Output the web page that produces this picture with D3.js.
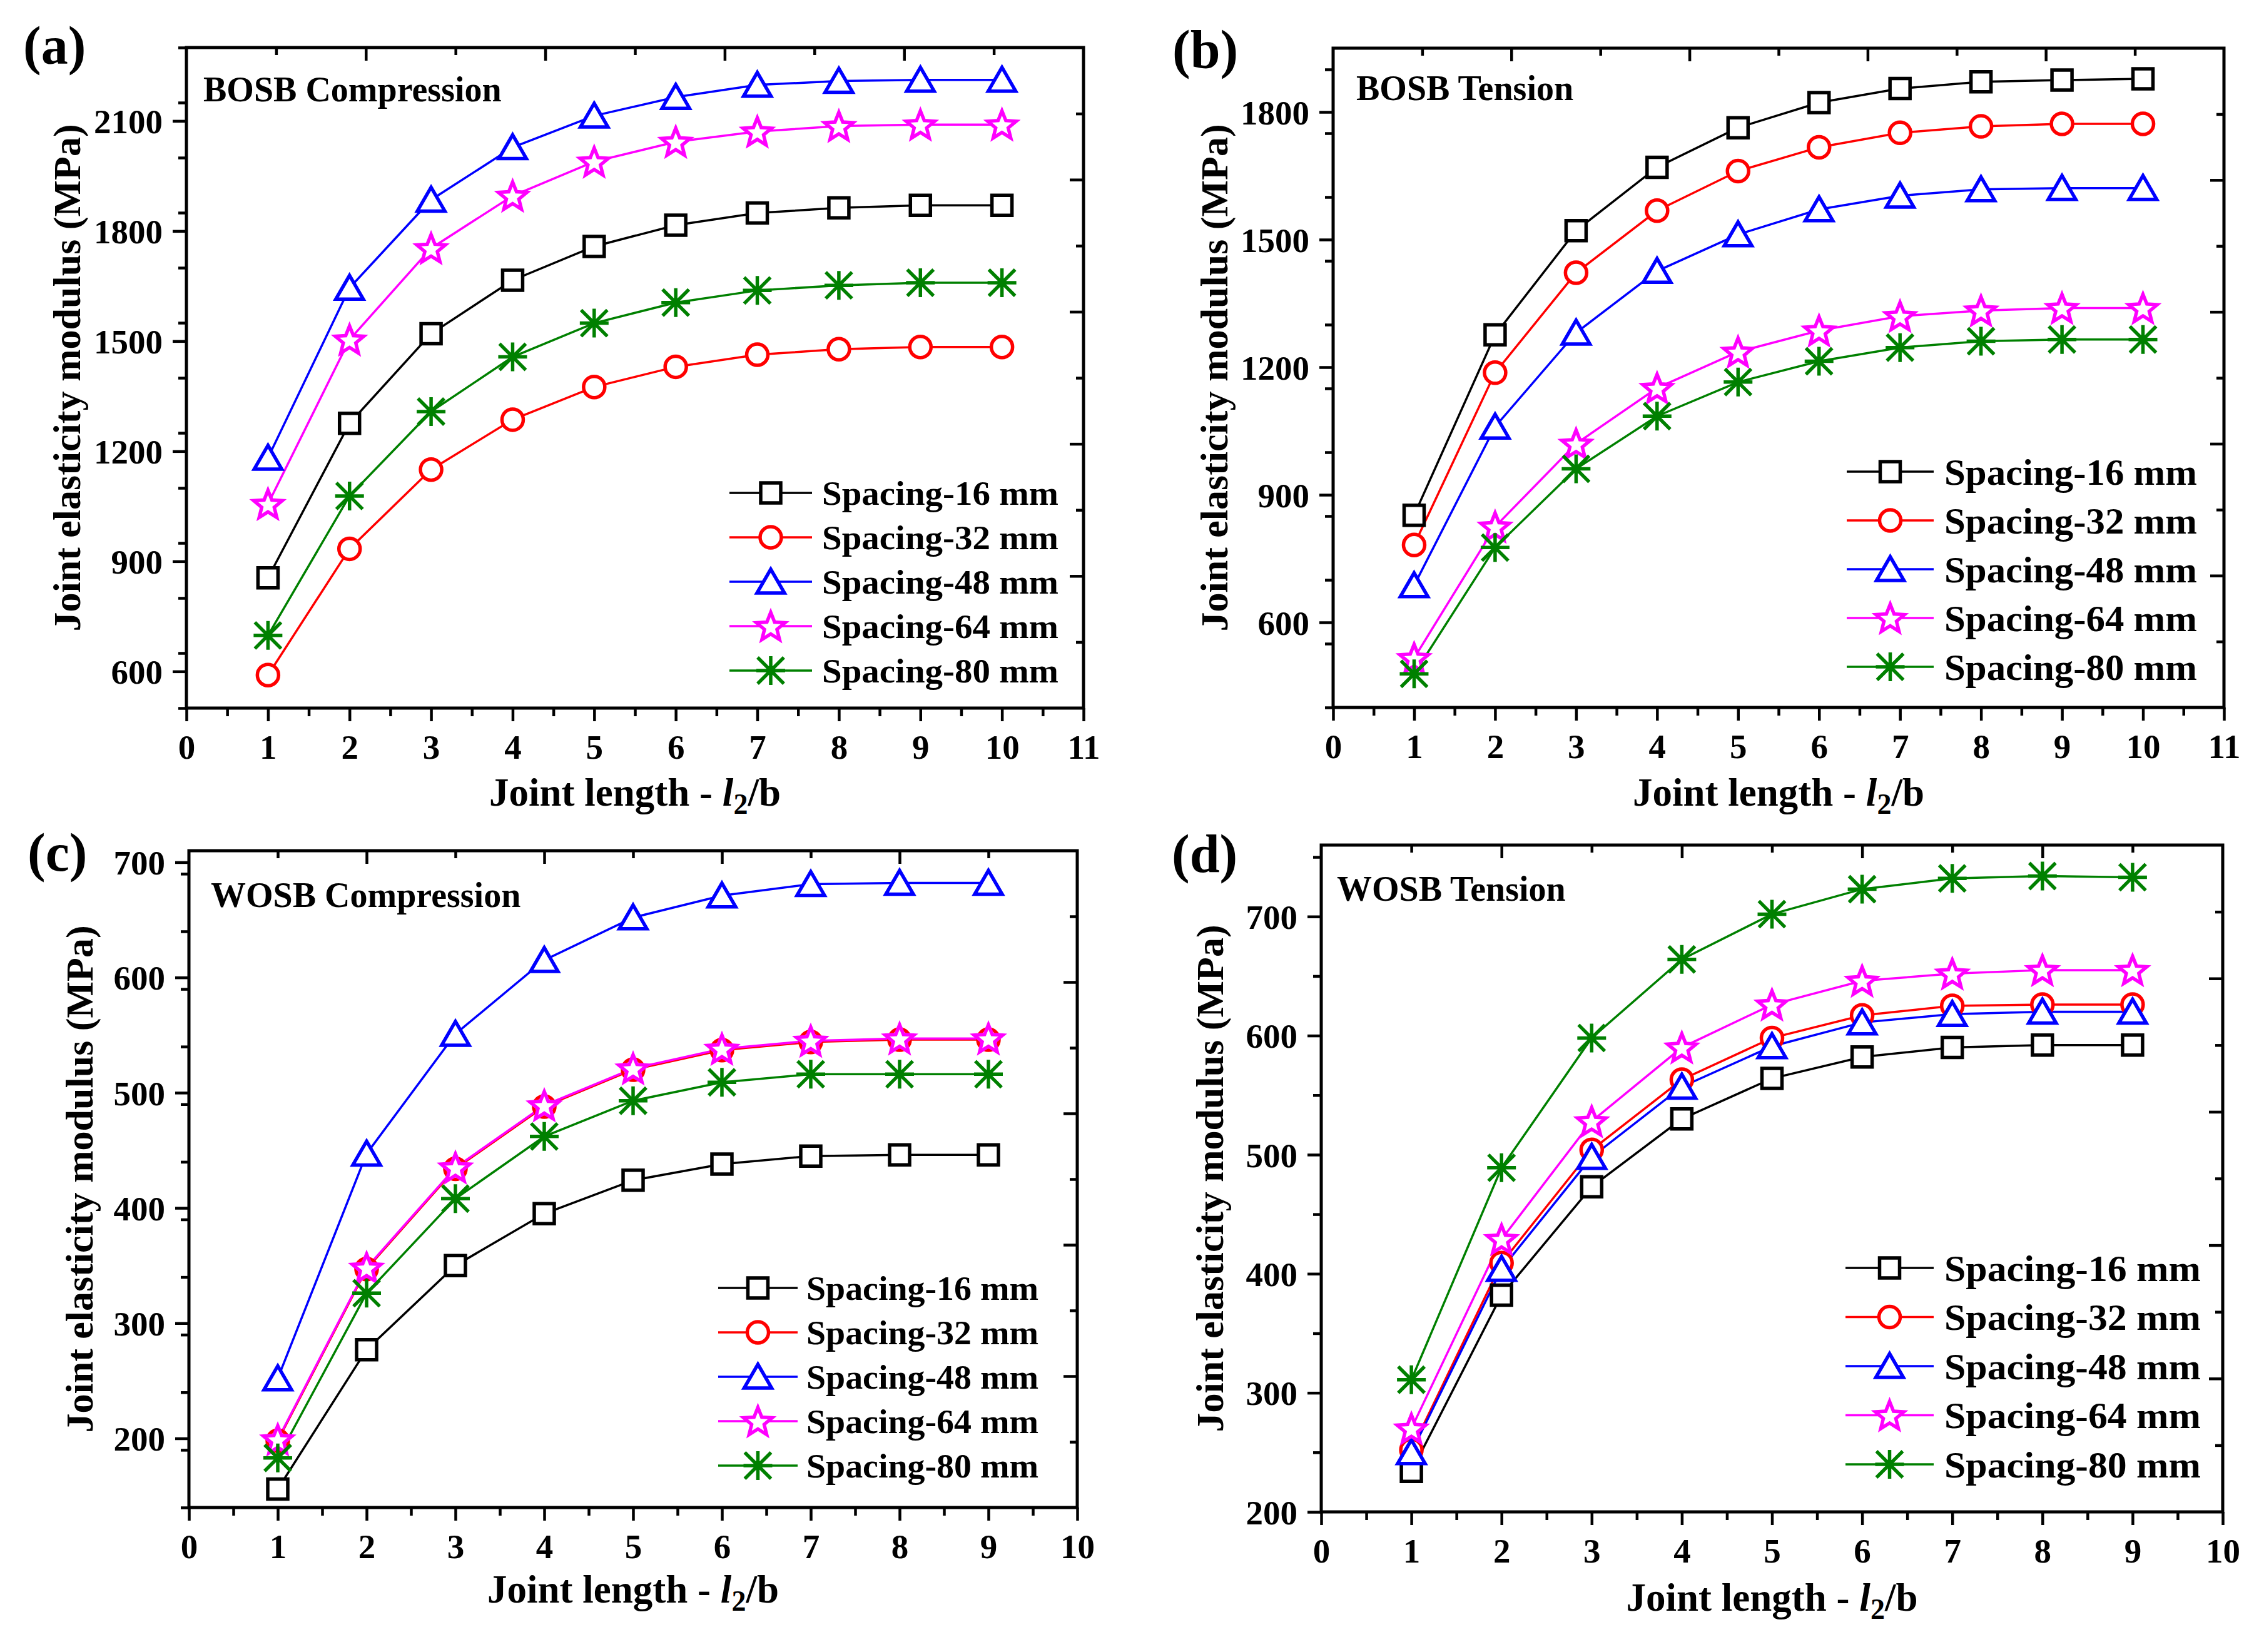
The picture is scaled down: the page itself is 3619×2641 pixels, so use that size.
<!DOCTYPE html>
<html>
<head>
<meta charset="utf-8">
<script src="https://cdnjs.cloudflare.com/ajax/libs/d3/7.8.5/d3.min.js"></script>
<style>
  body { margin: 0; background: #fff; }
  svg text { font-family: "Liberation Serif", "Times New Roman", serif; font-weight: bold; fill: #000; }
</style>
</head>
<body>
<svg id="paper"></svg>
<script>
// series names, colours and symbols (same order in every panel)
const spacingNames = ["Spacing-16 mm", "Spacing-32 mm", "Spacing-48 mm", "Spacing-64 mm", "Spacing-80 mm"];
const seriesColors = ["#000000", "#ff0000", "#0000ff", "#ff00ff", "#008000"];
const markerTypes = ["square", "circle", "triangle", "star", "asterisk"];

// joint length l2/b
const bosbJointLength = [1, 2, 3, 4, 5, 6, 7, 8, 9, 10];
const wosbJointLength = [1, 2, 3, 4, 5, 6, 7, 8, 9];

// (a) BOSB compression
const aS16 = [855, 1276, 1520, 1666, 1758, 1816, 1849, 1863, 1870, 1870];
const aS32 = [590, 934, 1150, 1286, 1375, 1430, 1463, 1478, 1484, 1484];
const aS48 = [1182, 1645, 1885, 2028, 2114, 2165, 2198, 2209, 2212, 2212];
const aS64 = [1056, 1504, 1753, 1896, 1989, 2043, 2071, 2086, 2090, 2090];
const aS80 = [698, 1078, 1308, 1457, 1549, 1605, 1638, 1652, 1659, 1659];

// (b) BOSB tension
const bS16 = [852, 1276, 1521, 1670, 1763, 1822, 1855, 1871, 1875, 1878];
const bS32 = [782, 1187, 1422, 1568, 1661, 1717, 1751, 1766, 1772, 1772];
const bS48 = [687, 1060, 1281, 1426, 1512, 1571, 1603, 1618, 1621, 1621];
const bS64 = [516, 825, 1020, 1151, 1236, 1286, 1320, 1333, 1339, 1339];
const bS80 = [479, 776, 961, 1085, 1165, 1214, 1246, 1261, 1265, 1265];

// (c) WOSB compression
const cS16 = [156, 277, 350, 395, 424, 438, 445, 446, 446];
const cS32 = [198, 347, 434, 488, 520, 537, 544, 546, 546];
const cS48 = [252, 447, 551, 615, 652, 671, 681, 682, 682];
const cS64 = [199, 348, 435, 489, 521, 538, 545, 547, 547];
const cS80 = [183, 326, 408, 462, 493, 509, 516, 516, 516];

// (d) WOSB tension
const dS16 = [234, 382, 473, 530, 564, 582, 590, 592, 592];
const dS32 = [252, 409, 504, 563, 598, 617, 625, 626, 626];
const dS48 = [250, 404, 498, 557, 591, 611, 618, 620, 620];
const dS64 = [270, 429, 528, 590, 626, 646, 652, 655, 655];
const dS80 = [311, 489, 598, 664, 702, 723, 732, 734, 733];

// tick labels
const xTicks11 = [0, 1, 2, 3, 4, 5, 6, 7, 8, 9, 10, 11];
const xTicks10 = [0, 1, 2, 3, 4, 5, 6, 7, 8, 9, 10];
const bosbCompTicks = [600, 900, 1200, 1500, 1800, 2100];
const bosbTensTicks = [600, 900, 1200, 1500, 1800];
const wosbCompTicks = [200, 300, 400, 500, 600, 700];
const wosbTensTicks = [200, 300, 400, 500, 600, 700];

// panel layout
const panels = [
    {label: "(a)", title: "BOSB Compression", xs: bosbJointLength, values: [aS16, aS32, aS48, aS64, aS80],
     xMax: 11, xTicks: xTicks11, yDomain: [500, 2300], yTicks: bosbCompTicks, yMinor: 150,
     box: {left: 298, right: 1732, top: 76, bottom: 1132}, labelAt: [37, 102], titleAt: [27, 86],
     yTitleOff: 170, xTitleOff: 156,
     legend: {x0: 1166, x1: 1298, tx: 1314, y0: 788, dy: 71, size: 54, width: 378}},
    {label: "(b)", title: "BOSB Tension", xs: bosbJointLength, values: [bS16, bS32, bS48, bS64, bS80],
     xMax: 11, xTicks: xTicks11, yDomain: [400, 1950], yTicks: bosbTensTicks, yMinor: 150,
     box: {left: 2131, right: 3555, top: 77, bottom: 1131}, labelAt: [1874, 108], titleAt: [37, 83],
     yTitleOff: 169, xTitleOff: 157,
     legend: {x0: 2952, x1: 3091, tx: 3108, y0: 754, dy: 78, size: 59, width: 404}},
    {label: "(c)", title: "WOSB Compression", xs: wosbJointLength, values: [cS16, cS32, cS48, cS64, cS80],
     xMax: 10, xTicks: xTicks10, yDomain: [140, 710], yTicks: wosbCompTicks, yMinor: 50,
     box: {left: 302, right: 1722, top: 1360, bottom: 2410}, labelAt: [44, 1392], titleAt: [35, 90],
     yTitleOff: 154, xTitleOff: 152,
     legend: {x0: 1148, x1: 1275, tx: 1289, y0: 2059, dy: 71, size: 54, width: 371}},
    {label: "(d)", title: "WOSB Tension", xs: wosbJointLength, values: [dS16, dS32, dS48, dS64, dS80],
     xMax: 10, xTicks: xTicks10, yDomain: [200, 760], yTicks: wosbTensTicks, yMinor: 50,
     box: {left: 2112, right: 3553, top: 1351, bottom: 2417}, labelAt: [1873, 1394], titleAt: [25, 89],
     yTitleOff: 157, xTitleOff: 158,
     legend: {x0: 2950, x1: 3091, tx: 3108, y0: 2027, dy: 78.5, size: 59, width: 410}}
];

const W = 3619, H = 2641;
const svg = d3.select("#paper").attr("width", W).attr("height", H);
svg.append("rect").attr("width", W).attr("height", H).attr("fill", "#fff");

function starPath(R, r) {
    let pts = [];
    for (let k = 0; k < 10; k++) {
        let a = -Math.PI / 2 + k * Math.PI / 5, rad = k % 2 ? r : R;
        pts.push([rad * Math.cos(a), rad * Math.sin(a) + 2]);
    }
    return "M" + pts.map(p => p[0].toFixed(2) + "," + p[1].toFixed(2)).join("L") + "Z";
}

function markerPath(type) {
    switch (type) {
        case "square": return "M-16,-16H16V16H-16Z";
        case "circle": return "M17,0A17,17 0 1,1 -17,0A17,17 0 1,1 17,0Z";
        case "triangle": return "M0,-20L22,18H-22Z";
        case "star": return starPath(24, 10.5);
        default: return "M0,-23V23M-23,0H23M-21,-21L21,21M21,-21L-21,21";
    }
}

function drawMarker(sel, type, color) {
    sel.append("path")
        .attr("d", markerPath(type))
        .attr("fill", type === "asterisk" ? "none" : "#fff")
        .attr("stroke", color)
        .attr("stroke-width", 5.5)
        .attr("stroke-linejoin", "miter");
}

panels.forEach(p => {
    const b = p.box;
    const g = svg.append("g");

    const x = d3.scaleLinear().domain([0, p.xMax]).range([b.left, b.right]);
    const y = d3.scaleLinear().domain(p.yDomain).range([b.bottom, b.top]);
    // the frame's top and right edges carry their own evenly spaced ticks
    const xTop = d3.scaleLinear().domain([0, 10]).range([b.left, b.right]);
    const yRight = d3.scaleLinear().domain([0, 10]).range([b.bottom, b.top]);

    const xMinor = d3.range(0.5, p.xMax, 1);
    const yMinor = d3.range(p.yDomain[0], p.yDomain[1] + 1, p.yMinor)
        .filter(v => v % (p.yMinor * 2) !== 0 && !p.yTicks.includes(v));

    // bottom axis
    const bx = g.append("g").attr("transform", "translate(0," + b.bottom + ")");
    bx.call(d3.axisBottom(x).tickValues(p.xTicks).tickSize(21).tickSizeOuter(0).tickFormat(d3.format("d")));
    bx.selectAll("text").attr("y", 81).attr("dy", null).style("font-size", "55px");
    g.append("g").attr("transform", "translate(0," + b.bottom + ")")
        .call(d3.axisBottom(x).tickValues(xMinor).tickSize(13).tickSizeOuter(0).tickFormat(""));

    // left axis
    const ly = g.append("g").attr("transform", "translate(" + b.left + ",0)");
    ly.call(d3.axisLeft(y).tickValues(p.yTicks).tickSize(22).tickSizeOuter(0).tickFormat(d3.format("d")));
    ly.selectAll("text").attr("x", -38).attr("dy", "0.35em").style("font-size", "55px");
    g.append("g").attr("transform", "translate(" + b.left + ",0)")
        .call(d3.axisLeft(y).tickValues(yMinor).tickSize(13).tickSizeOuter(0).tickFormat(""));

    // top and right, ticks pointing inward
    g.append("g").attr("transform", "translate(0," + b.top + ")")
        .call(d3.axisTop(xTop).tickValues([2, 4, 6, 8]).tickSize(-21).tickSizeOuter(0).tickFormat(""));
    g.append("g").attr("transform", "translate(0," + b.top + ")")
        .call(d3.axisTop(xTop).tickValues([1, 3, 5, 7, 9]).tickSize(-12).tickSizeOuter(0).tickFormat(""));
    g.append("g").attr("transform", "translate(" + b.right + ",0)")
        .call(d3.axisRight(yRight).tickValues([2, 4, 6, 8]).tickSize(-22).tickSizeOuter(0).tickFormat(""));
    g.append("g").attr("transform", "translate(" + b.right + ",0)")
        .call(d3.axisRight(yRight).tickValues([1, 3, 5, 7, 9]).tickSize(-12).tickSizeOuter(0).tickFormat(""));

    g.selectAll(".domain").remove();
    g.selectAll(".tick line").attr("stroke", "#000").attr("stroke-width", 4.5);

    g.append("rect")
        .attr("x", b.left).attr("y", b.top)
        .attr("width", b.right - b.left).attr("height", b.bottom - b.top)
        .attr("fill", "none").attr("stroke", "#000").attr("stroke-width", 5);

    // series
    p.values.forEach((vals, s) => {
        const line = d3.line().x((d, i) => x(p.xs[i])).y(d => y(d));
        g.append("path").datum(vals)
            .attr("d", line)
            .attr("fill", "none")
            .attr("stroke", seriesColors[s])
            .attr("stroke-width", 3.5);
    });
    p.values.forEach((vals, s) => {
        g.selectAll(null).data(vals).enter().append("g")
            .attr("transform", (d, i) => "translate(" + x(p.xs[i]) + "," + y(d) + ")")
            .each(function () { drawMarker(d3.select(this), markerTypes[s], seriesColors[s]); });
    });

    // legend
    const L = p.legend;
    spacingNames.forEach((name, s) => {
        const ry = L.y0 + s * L.dy;
        g.append("line")
            .attr("x1", L.x0).attr("x2", L.x1).attr("y1", ry).attr("y2", ry)
            .attr("stroke", seriesColors[s]).attr("stroke-width", 3.5);
        drawMarker(g.append("g").attr("transform", "translate(" + (L.x0 + L.x1) / 2 + "," + ry + ")"),
            markerTypes[s], seriesColors[s]);
        g.append("text")
            .attr("x", L.tx).attr("y", ry + L.size * 0.35)
            .attr("textLength", L.width).attr("lengthAdjust", "spacingAndGlyphs")
            .style("font-size", L.size + "px")
            .text(name);
    });

    // panel texts
    g.append("text").attr("x", p.labelAt[0]).attr("y", p.labelAt[1])
        .style("font-size", "86px").text(p.label);
    g.append("text").attr("x", b.left + p.titleAt[0]).attr("y", b.top + p.titleAt[1])
        .style("font-size", "56px").text(p.title);

    g.append("text")
        .attr("transform", "translate(" + (b.left - p.yTitleOff) + "," + (b.top + b.bottom) / 2 + ") rotate(-90)")
        .attr("text-anchor", "middle")
        .style("font-size", "62px")
        .text("Joint elasticity modulus (MPa)");

    const xt = g.append("text")
        .attr("x", (b.left + b.right) / 2).attr("y", b.bottom + p.xTitleOff)
        .attr("text-anchor", "middle")
        .style("font-size", "63px");
    xt.append("tspan").text("Joint length - ");
    xt.append("tspan").style("font-style", "italic").text("l");
    xt.append("tspan").attr("dy", 13).style("font-size", "46px").text("2");
    xt.append("tspan").attr("dy", -13).text("/b");
});
</script>
</body>
</html>
